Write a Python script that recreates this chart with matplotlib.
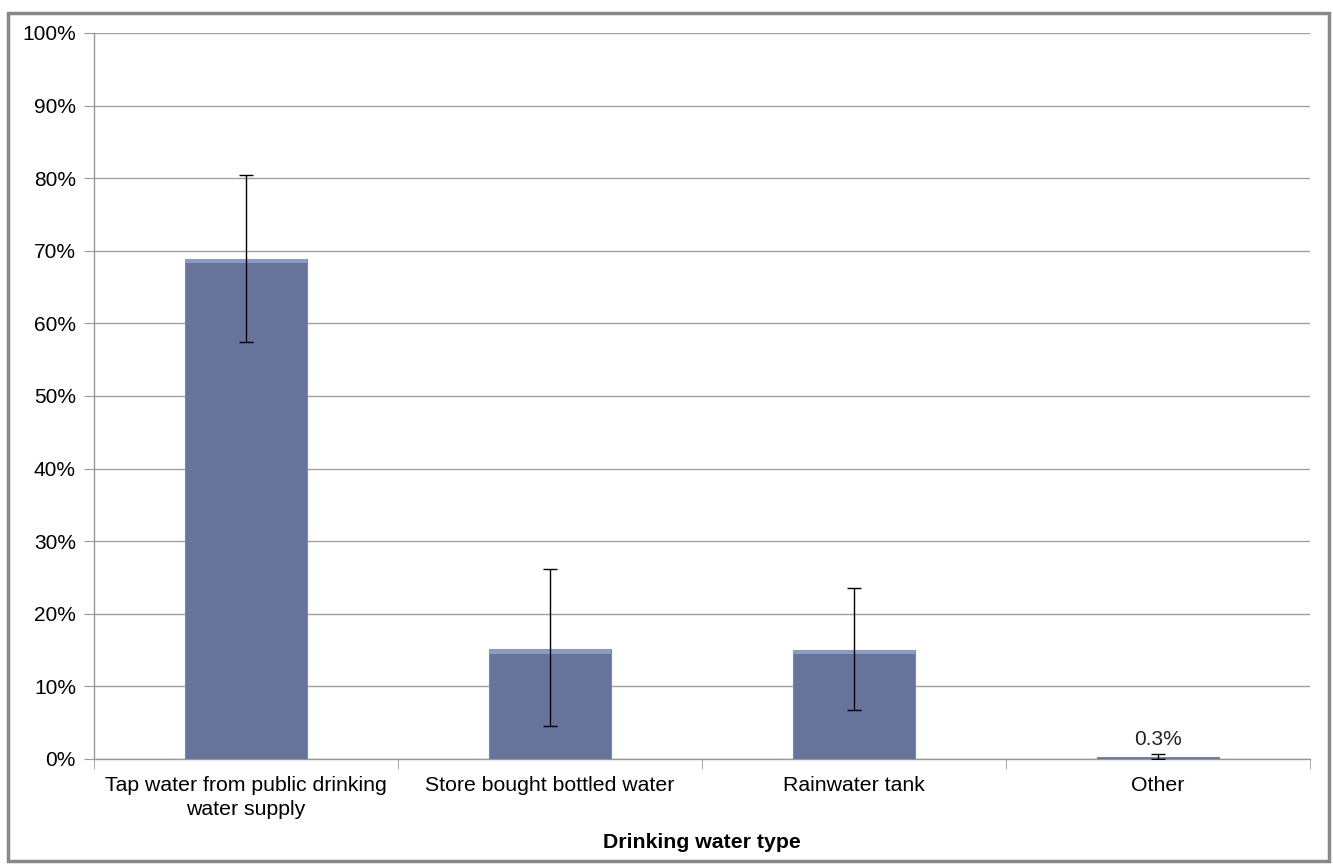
import matplotlib.pyplot as plt
from matplotlib.patches import Rectangle
import numpy as np

plt.rcParams['font.family'] = ['Liberation Sans', 'DejaVu Sans']

# data (percent)
categories = ['Tap water from public drinking\nwater supply', 'Store bought bottled water',
              'Rainwater tank', 'Other']
values = [68.9, 15.1, 15.0, 0.3]
err_low = [57.4, 4.6, 6.8, 0.0]
err_high = [80.5, 26.2, 23.6, 0.7]
yticks = list(range(0, 101, 10))

fig = plt.figure(figsize=(13.33, 8.66), dpi=100)
ax = fig.add_axes([0.0705, 0.1236, 0.9122, 0.8383])

x = np.arange(len(categories))
yerr = [np.array(values) - np.array(err_low), np.array(err_high) - np.array(values)]

bars = ax.bar(x, values, width=0.4, color='#66749A', edgecolor='#7a88ae', linewidth=0.8, zorder=3)
# light bevel along the top of each bar
for b in bars:
    if b.get_height() > 1:
        ax.add_patch(Rectangle((b.get_x(), b.get_height() - 0.6), b.get_width(), 0.6,
                               color='#8d9bc2', zorder=4, linewidth=0))
ax.errorbar(x, values, yerr=yerr, fmt='none', ecolor='black', elinewidth=1,
            capsize=5, capthick=1, zorder=5)

ax.text(x[3], values[3] + 1.1, '0.3%', ha='center', va='bottom', fontsize=15, color='#222222')

ax.set_xlim(-0.5, len(categories) - 0.5)
ax.set_ylim(0, 100)
ax.set_yticks(yticks)
ax.set_yticklabels([f'{t}%' for t in yticks], fontsize=15)
ax.set_xticks(x)
ax.set_xticklabels(categories, fontsize=15.3, linespacing=1.35)
ax.set_xticks(np.arange(-0.5, len(categories)), minor=True)
ax.tick_params(axis='x', which='major', length=0, pad=12)
ax.tick_params(axis='x', which='minor', length=7, color='#999999', direction='out')
ax.tick_params(axis='y', length=7, color='#999999', pad=6)

ax.grid(axis='y', color='#a0a0a0', linewidth=1, zorder=0)
ax.set_axisbelow(True)
for s in ['top', 'right']:
    ax.spines[s].set_visible(False)
for s in ['left', 'bottom']:
    ax.spines[s].set_color('#999999')
    ax.spines[s].set_linewidth(1)

ax.set_xlabel('Drinking water type', fontsize=15.3, fontweight='bold', labelpad=10)

# grey frame round the whole chart
fig.patches.append(Rectangle((0.006, 0.006), 0.991, 0.979, transform=fig.transFigure,
                             fill=False, edgecolor='#888888', linewidth=2.5))

fig.savefig('out.png', dpi=100)
